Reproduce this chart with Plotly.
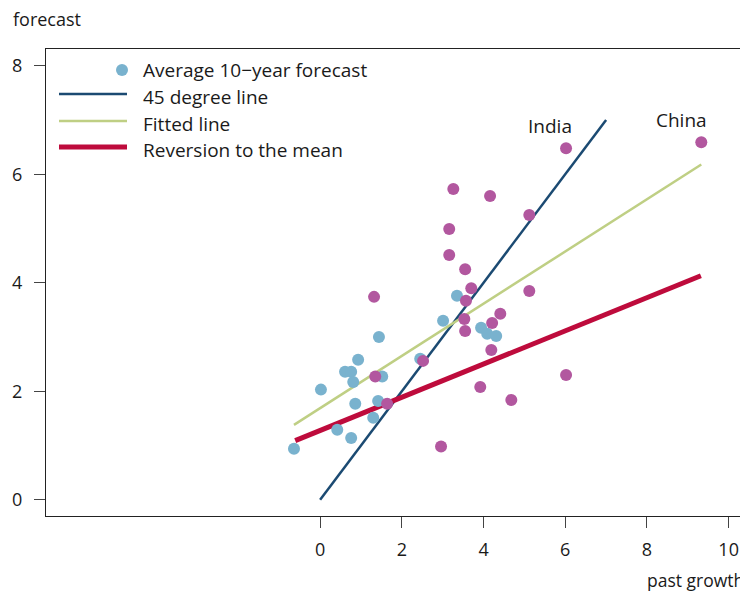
import plotly.graph_objects as go

# ---- data ----
blue_x = [1.44, 0.93, 0.61, 0.76, 0.81, 0.02, 1.52, 0.86, 1.42, 1.30, 0.42, 0.76, -0.64,
          3.01, 2.45, 3.35, 3.94, 4.09, 4.31]
blue_y = [3.00, 2.58, 2.36, 2.36, 2.17, 2.03, 2.27, 1.77, 1.82, 1.51, 1.29, 1.14, 0.94,
          3.30, 2.60, 3.76, 3.17, 3.06, 3.02]

mag_x = [1.32, 1.35, 1.64, 2.52, 3.26, 4.16, 3.16, 3.16, 3.55, 3.70, 3.57, 3.53, 3.55,
         4.41, 4.21, 4.19, 3.92, 4.68, 2.96, 5.12, 5.12, 6.02, 9.33, 6.02]
mag_y = [3.74, 2.27, 1.77, 2.56, 5.73, 5.60, 4.99, 4.51, 4.25, 3.90, 3.67, 3.33, 3.11,
         3.43, 3.26, 2.76, 2.08, 1.84, 0.98, 5.25, 3.85, 6.48, 6.59, 2.30]

line45_x = [0, 7]
line45_y = [0, 7]
fitted_x = [-0.64, 9.33]
fitted_y = [1.38, 6.18]
revert_x = [-0.61, 9.32]
revert_y = [1.09, 4.13]

labels = ["India", "China"]
label_x = [5.63, 8.84]
label_y = [6.89, 7.00]

x_ticks = [0, 2, 4, 6, 8, 10]
y_ticks = [0, 2, 4, 6, 8]

legend_names = ["Average 10\u2212year forecast", "45 degree line", "Fitted line", "Reversion to the mean"]

# ---- styles ----
C_BLUE = "#79b2ce"
C_MAG = "#b2579f"
C_DARK = "#1b4a72"
C_GREEN = "#bfcf84"
C_RED = "#be0b3c"
FONT = "Open Sans"
TXT = "#1a1a1a"

# the page body adds an 8px offset; compensate so the plot box lands where the reference has it
OFF = 8
W, H = 748 - OFF, 594 - OFF
ML, MR, MT, MB = 46 - OFF, 3, 49 - OFF, 78
PW, PH = W - ML - MR, H - MT - MB


def px2paper(px, py):
    # px, py are window pixel coordinates
    return (px - OFF - ML) / PW, (H - MB - (py - OFF)) / PH


fig = go.Figure()
fig.add_trace(go.Scatter(x=line45_x, y=line45_y, mode="lines", line=dict(color=C_DARK, width=2.5),
                         name=legend_names[1], showlegend=False))
fig.add_trace(go.Scatter(x=fitted_x, y=fitted_y, mode="lines", line=dict(color=C_GREEN, width=2.5),
                         name=legend_names[2], showlegend=False))
fig.add_trace(go.Scatter(x=revert_x, y=revert_y, mode="lines", line=dict(color=C_RED, width=5),
                         name=legend_names[3], showlegend=False))
fig.add_trace(go.Scatter(x=blue_x, y=blue_y, mode="markers",
                         marker=dict(color=C_BLUE, size=12, line=dict(width=0)),
                         name=legend_names[0], showlegend=False))
fig.add_trace(go.Scatter(x=mag_x, y=mag_y, mode="markers",
                         marker=dict(color=C_MAG, size=12, line=dict(width=0)),
                         name="Countries", showlegend=False))

shapes = []
annotations = []
# manual legend
row_text_y = [70, 97, 124, 150]
row_line_y = [70, 94, 121, 147]
line_styles = [None, (C_DARK, 2.5), (C_GREEN, 2.5), (C_RED, 5)]
for i, name in enumerate(legend_names):
    if i == 0:
        cx, cy = px2paper(122, row_line_y[i])
        shapes.append(dict(type="circle", xref="paper", yref="paper", xsizemode="pixel", ysizemode="pixel",
                           xanchor=cx, yanchor=cy, x0=-6, x1=6, y0=-6, y1=6,
                           fillcolor=C_BLUE, line=dict(width=0)))
    else:
        x0, y0 = px2paper(59, row_line_y[i])
        x1, _ = px2paper(127, row_line_y[i])
        col, w = line_styles[i]
        shapes.append(dict(type="line", xref="paper", yref="paper", x0=x0, x1=x1, y0=y0, y1=y0,
                           line=dict(color=col, width=w)))
    tx, ty = px2paper(141, row_text_y[i])
    annotations.append(dict(text=name, xref="paper", yref="paper", x=tx, y=ty, xanchor="left",
                            yanchor="middle", showarrow=False, font=dict(size=19, color=TXT, family=FONT)))

for t, x, y in zip(labels, label_x, label_y):
    annotations.append(dict(text=t, x=x, y=y, xref="x", yref="y", showarrow=False,
                            xanchor="center", yanchor="middle", font=dict(size=19, color=TXT, family=FONT)))

fx, fy = px2paper(12, 19)
annotations.append(dict(text="forecast", xref="paper", yref="paper", x=fx, y=fy,
                        xanchor="left", yanchor="middle", showarrow=False, borderpad=0,
                        font=dict(size=18, color=TXT, family=FONT)))
gx, gy = px2paper(745, 580)
annotations.append(dict(text="past growth", xref="paper", yref="paper", x=gx, y=gy,
                        xanchor="right", yanchor="middle", showarrow=False, borderpad=0,
                        font=dict(size=17.5, color=TXT, family=FONT)))

axis_common = dict(showgrid=False, zeroline=False, showline=True, mirror=True, linecolor="#222",
                   linewidth=1, ticks="outside", ticklen=11, tickwidth=1, tickcolor="#444",
                   tickfont=dict(size=18, color=TXT, family=FONT))

fig.update_layout(
    width=W, height=H,
    margin=dict(l=ML, r=MR, t=MT, b=MB),
    paper_bgcolor="white", plot_bgcolor="white",
    xaxis=dict(range=[-6.71, 10.40], tickvals=x_ticks, ticktext=[str(v) for v in x_ticks],
               ticklabelstandoff=6, **axis_common),
    yaxis=dict(range=[-0.30, 8.31], tickvals=y_ticks, ticktext=[str(v) for v in y_ticks],
               ticklabelstandoff=8, **axis_common),
    shapes=shapes,
    annotations=annotations,
    showlegend=False,
)

fig.write_html("out.html")
